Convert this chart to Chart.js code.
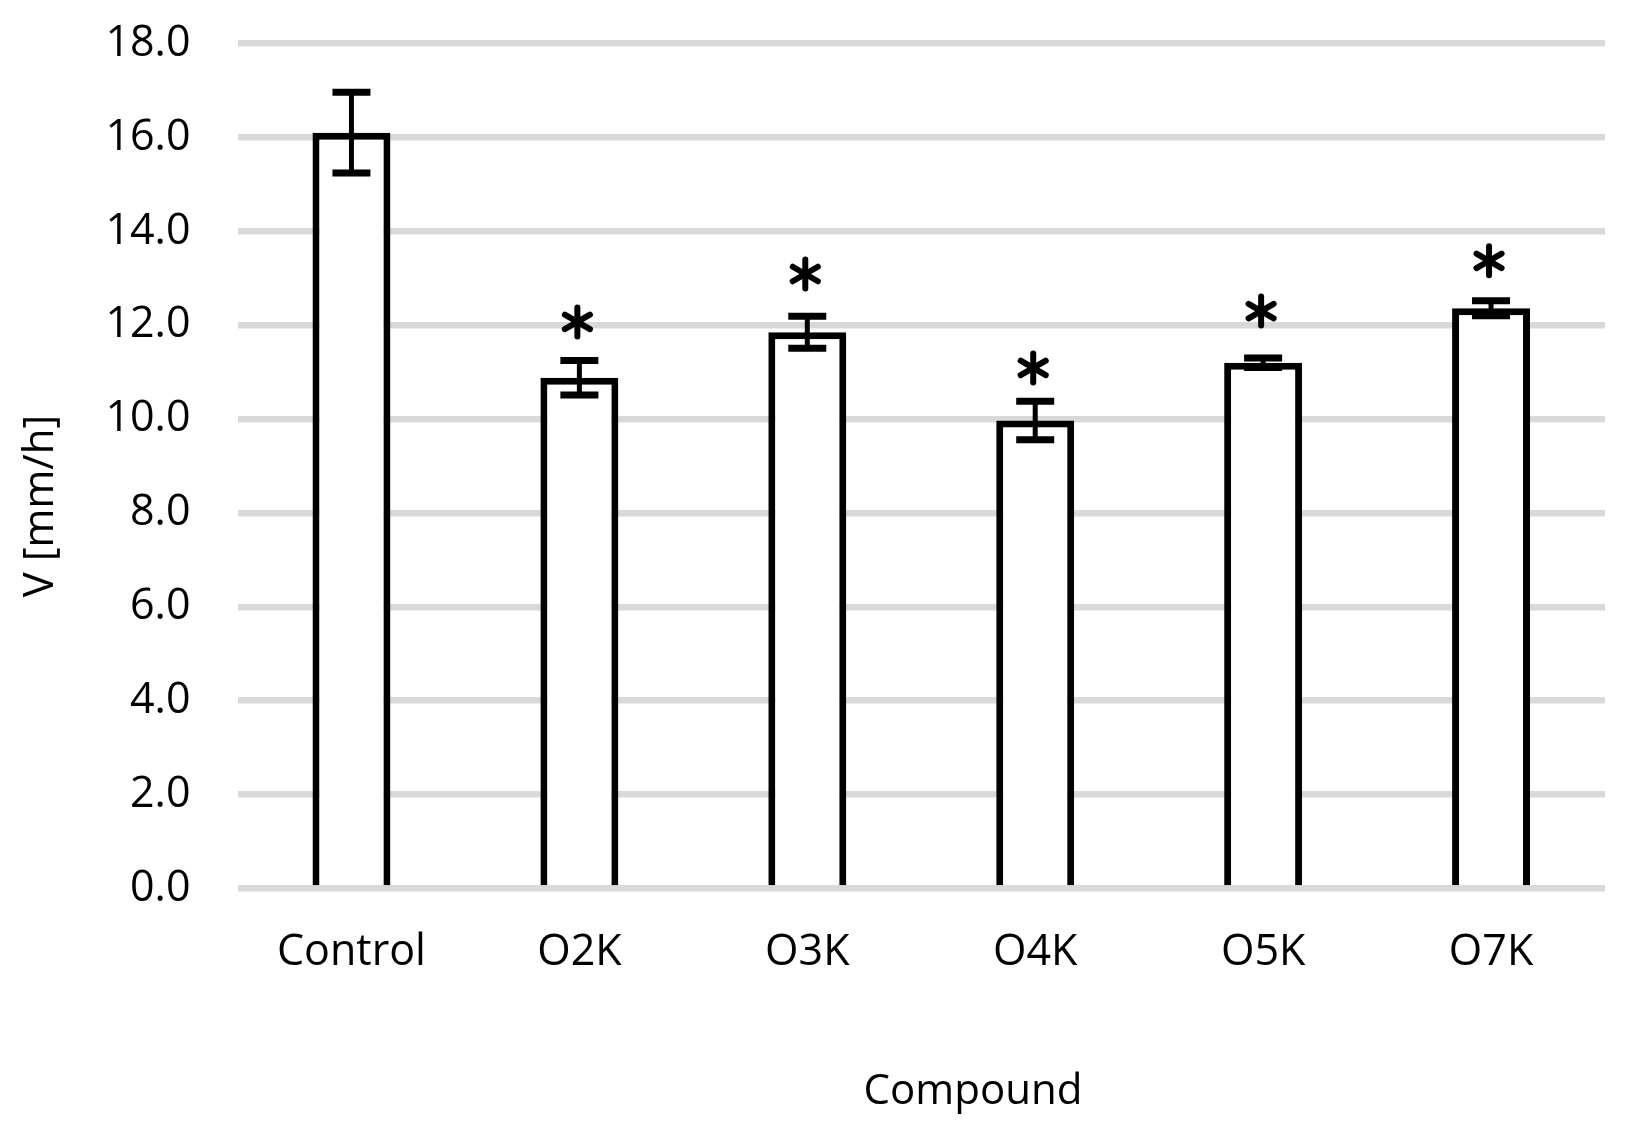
<!DOCTYPE html>
<html>
<head>
<meta charset="utf-8">
<script src="https://cdn.jsdelivr.net/npm/chart.js@4/dist/chart.umd.min.js"></script>
<style>
html,body{margin:0;padding:0;background:#ffffff;}
#wrap{width:1644px;height:1132px;position:relative;}
</style>
</head>
<body>
<div id="wrap"><canvas id="c" width="1644" height="1132"></canvas></div>
<script>
// ---- data ----
const categories = ['Control', 'O2K', 'O3K', 'O4K', 'O5K', 'O7K'];
const meanValues = [16.1, 10.88, 11.85, 9.97, 11.2, 12.36];
const errorValues = [0.86, 0.37, 0.34, 0.41, 0.1, 0.16];
const significant = [false, true, true, true, true, true];
const starLevels = [null, 12.07, 13.09, 11.09, 12.30, 13.37];
const yTickValues = [0, 2, 4, 6, 8, 10, 12, 14, 16, 18];
const yAxisTitle = 'V [mm/h]';
const xAxisTitle = 'Compound';

const FONT = '"Open Sans", "DejaVu Sans", sans-serif';

function drawStar(ctx, cx, cy) {
  const r = 14.5;
  ctx.save();
  ctx.lineWidth = 6;
  ctx.lineCap = 'round';
  ctx.strokeStyle = '#000';
  for (let k = 0; k < 3; k++) {
    const a = Math.PI / 2 + k * Math.PI / 3;
    ctx.beginPath();
    ctx.moveTo(cx - r * Math.cos(a), cy - r * Math.sin(a));
    ctx.lineTo(cx + r * Math.cos(a), cy + r * Math.sin(a));
    ctx.stroke();
  }
  ctx.restore();
}

const overlay = {
  id: 'overlay',
  afterDatasetsDraw(chart) {
    const ctx = chart.ctx, xs = chart.scales.x, ys = chart.scales.y;
    ctx.save();
    ctx.strokeStyle = '#000';
    categories.forEach((c, i) => {
      const cx = xs.getPixelForValue(i);
      const hi = ys.getPixelForValue(meanValues[i] + errorValues[i]);
      const lo = ys.getPixelForValue(meanValues[i] - errorValues[i]);
      ctx.lineWidth = 5;
      ctx.lineCap = 'butt';
      ctx.beginPath();
      ctx.moveTo(cx, hi); ctx.lineTo(cx, lo);
      ctx.stroke();
      ctx.lineWidth = 7;
      ctx.beginPath();
      ctx.moveTo(cx - 19, hi); ctx.lineTo(cx + 19, hi);
      ctx.moveTo(cx - 19, lo); ctx.lineTo(cx + 19, lo);
      ctx.stroke();
      if (significant[i]) drawStar(ctx, cx - 2, ys.getPixelForValue(starLevels[i]));
    });
    ctx.restore();
  },
  afterDraw(chart) {
    const ctx = chart.ctx;
    ctx.save();
    ctx.fillStyle = '#000';
    ctx.font = '42px ' + FONT;
    ctx.textAlign = 'center';
    ctx.textBaseline = 'alphabetic';
    ctx.fillText(xAxisTitle, 973, 1104);
    ctx.translate(53, 506);
    ctx.rotate(-Math.PI / 2);
    ctx.fillText(yAxisTitle, 0, 0);
    ctx.restore();
  }
};

new Chart(document.getElementById('c'), {
  type: 'bar',
  data: {
    labels: categories,
    datasets: [{
      data: meanValues,
      backgroundColor: '#ffffff',
      borderColor: '#000000',
      borderWidth: 7,
      borderSkipped: 'start',
      categoryPercentage: 1,
      barPercentage: 0.342
    }]
  },
  options: {
    responsive: false,
    animation: false,
    devicePixelRatio: 1,
    layout: { padding: { top: 43.5, right: 39, left: 0, bottom: 0 } },
    plugins: { legend: { display: false }, tooltip: { enabled: false } },
    scales: {
      x: {
        grid: { display: false, drawTicks: false },
        border: { display: false },
        ticks: { color: '#000', font: { family: FONT, size: 43 }, padding: 38 },
        afterFit(s) { s.height = 1132 - 888.5; s.paddingLeft = 0; s.paddingRight = 0; }
      },
      y: {
        min: 0, max: 18,
        afterBuildTicks(s) { s.ticks = yTickValues.map(v => ({ value: v })); },
        grid: { color: '#d9d9d9', lineWidth: 6.5, drawTicks: false },
        border: { display: false },
        ticks: {
          color: '#000', font: { family: FONT, size: 43 }, padding: 47,
          callback: v => Number(v).toFixed(1)
        },
        afterFit(s) { s.width = 237.5; s.paddingTop = 0; s.paddingBottom = 0; }
      }
    }
  },
  plugins: [overlay]
});
</script>
</body>
</html>
